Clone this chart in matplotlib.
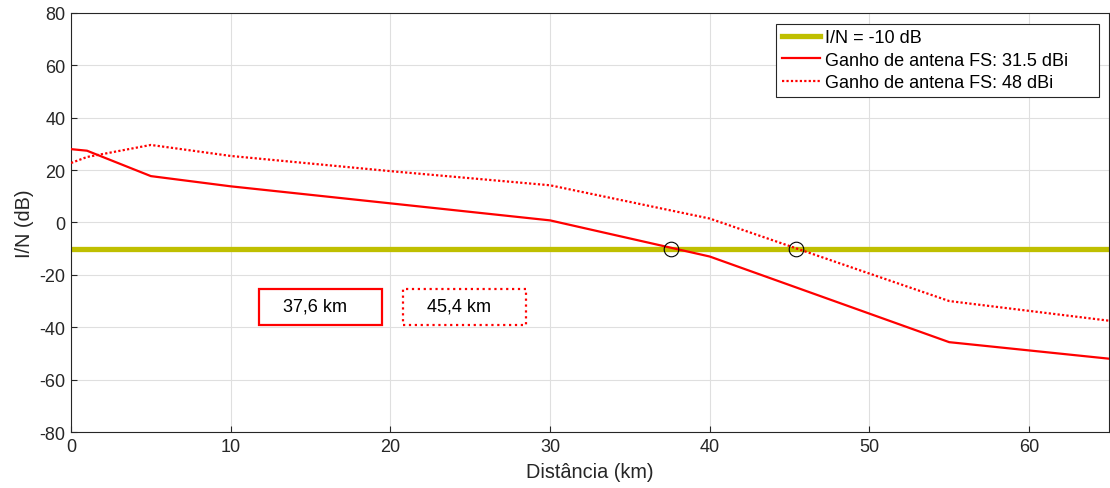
import matplotlib.pyplot as plt
from matplotlib.patches import Rectangle

plt.rcParams['font.family'] = ['Liberation Sans', 'DejaVu Sans']
plt.rcParams['axes.unicode_minus'] = False

# distance (km) and I/N (dB)
dist = [0, 1, 5, 10, 20, 30, 40, 55, 65]
in_31 = [28.0, 27.4, 17.7, 13.8, 7.3, 0.8, -13.0, -45.7, -52.0]
in_48 = [22.7, 25.0, 29.6, 25.4, 19.6, 14.2, 1.5, -30.0, -37.5]
threshold = -10
cross_km = [37.6, 45.4]
box_labels = ['37,6 km', '45,4 km']

fig = plt.figure(figsize=(11.1, 4.89), dpi=100)
ax = fig.add_axes([0.064, 0.1145, 0.935, 0.857])

ax.axhline(threshold, color='#bfbf00', lw=3.8, label='I/N = -10 dB', zorder=2)
ax.plot(dist, in_31, color='red', lw=1.6, label='Ganho de antena FS: 31.5 dBi', zorder=3)
ax.plot(dist, in_48, color='red', lw=1.6, ls=(0, (1, 1)), label='Ganho de antena FS: 48 dBi', zorder=3)
ax.plot(cross_km, [threshold] * 2, 'o', mfc='none', mec='black', ms=10.5, mew=0.8, zorder=4)

# annotation boxes
for (x0, lab, ls) in zip([11.8, 20.8], box_labels, ['-', ':']):
    ax.add_patch(Rectangle((x0, -39), 7.7, 13.5, fill=False, ec='red', lw=1.6, ls=ls, zorder=5))
    ax.text(x0 + 3.5, -32, lab, ha='center', va='center', fontsize=13)

ax.set_xlim(0, 65)
ax.set_ylim(-80, 80)
ax.set_xticks(range(0, 61, 10))
ax.set_yticks(range(-80, 81, 20))
ax.grid(True, color='#dfdfdf', lw=0.8)
ax.set_axisbelow(True)
ax.tick_params(direction='in', length=4, labelsize=13, colors='#262626', labelcolor='#262626', pad=4)
for s in ax.spines.values():
    s.set_color('#262626')
    s.set_linewidth(0.8)
ax.set_xlabel('Distância (km)', fontsize=14.3, color='#262626', labelpad=5)
ax.set_ylabel('I/N (dB)', fontsize=14.3, color='#262626', labelpad=4)

leg = ax.legend(loc='upper left', bbox_to_anchor=(0.6795, 0.8, 0.3105, 0.1737), mode='expand',
                fontsize=13, frameon=True, fancybox=False,
                edgecolor='#262626', framealpha=1, borderaxespad=0,
                handlelength=2.1, handletextpad=0.3, labelspacing=0.3, borderpad=0.3)
leg.get_frame().set_linewidth(0.8)

fig.savefig('out.png', dpi=100)
